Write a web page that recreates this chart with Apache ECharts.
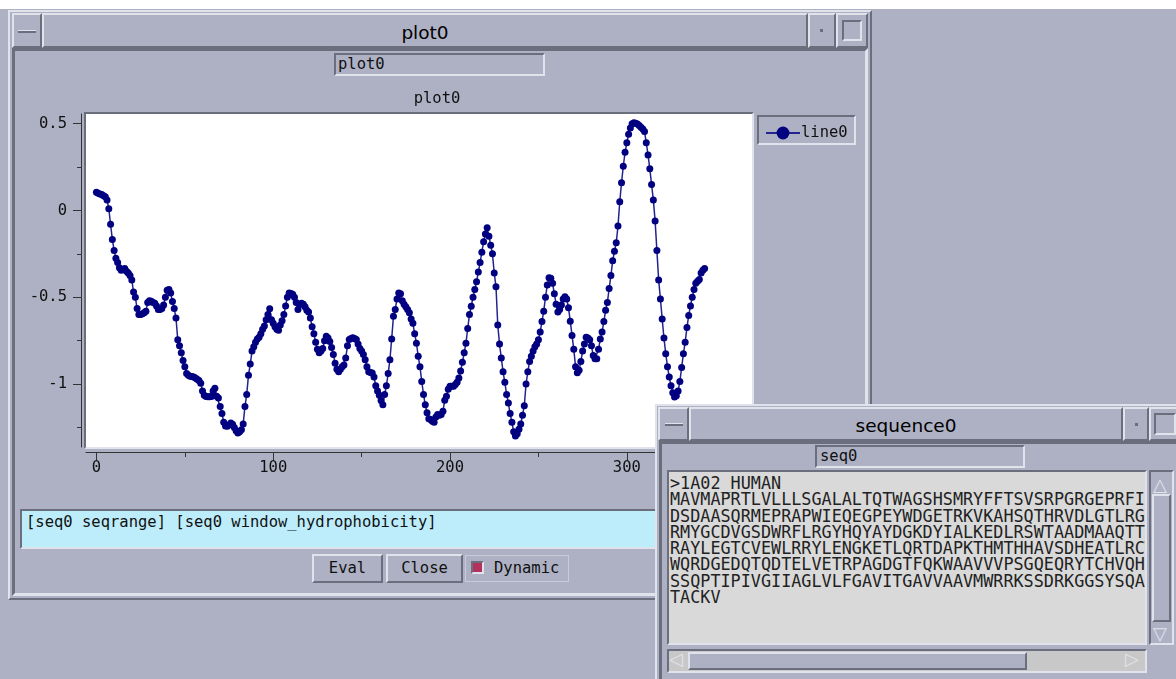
<!DOCTYPE html>
<html>
<head>
<meta charset="utf-8">
<script src="https://cdn.jsdelivr.net/npm/echarts@6/dist/echarts.min.js"></script>
<style>
  html, body { margin: 0; padding: 0; }
  body { width: 1176px; height: 679px; overflow: hidden; position: relative; background: #aeb1c4; }
  div { box-sizing: border-box; }
  .abs { position: absolute; }
  .raised { border: 2px solid; border-color: #e1e3ec #6b6e7d #6b6e7d #e1e3ec; }
  .sunken { border: 2px solid; border-color: #6b6e7d #e1e3ec #e1e3ec #6b6e7d; }
  .mono { font-family: "DejaVu Sans Mono", monospace; font-size: 15.5px; color: #111; white-space: pre; }
  .wtitle { font-family: "DejaVu Sans", sans-serif; font-size: 18.5px; color: #000; text-align: center; }
  .dash { position: absolute; height: 3px; border-top: 1px solid #e1e3ec; border-bottom: 2px solid #6b6e7d; }
</style>
</head>
<body>
<div class="abs" style="left:0;top:0;width:1176px;height:9px;background:#fff"></div>

<!-- plot0 window -->
<div class="abs raised" style="left:8px;top:10px;width:864px;height:590px;background:#aeb1c4"></div>
<div class="abs raised" style="left:12px;top:13px;width:30px;height:35px"></div>
<div class="dash" style="left:18px;top:30px;width:18px"></div>
<div class="abs raised wtitle" style="left:42px;top:13px;width:766px;height:35px;line-height:36px">plot0</div>
<div class="abs raised" style="left:808px;top:13px;width:28px;height:35px"></div>
<div class="abs" style="left:820px;top:29px;width:3px;height:3px;background:#6b6e7d"></div>
<div class="abs raised" style="left:836px;top:13px;width:32px;height:35px"></div>
<div class="abs sunken" style="left:842px;top:20px;width:20px;height:21px"></div>
<div class="abs" style="left:12px;top:48px;width:856px;height:548px;border:3px solid;border-color:#6b6e7d #e1e3ec #e1e3ec #6b6e7d"></div>
<div class="abs sunken mono" style="left:334px;top:53px;width:211px;height:23px;line-height:19px;padding-left:2px">plot0</div>
<div class="abs sunken" style="left:84px;top:112px;width:670px;height:337px;background:#fff"></div>
<div class="abs sunken" style="left:757px;top:115px;width:99px;height:30px"></div>
<div class="abs sunken mono" style="left:20px;top:509px;width:848px;height:40px;background:#bdedfb;padding:2px 4px;line-height:18px">[seq0 seqrange] [seq0 window_hydrophobicity]</div>
<div class="abs raised mono" style="left:312px;top:554px;width:71px;height:29px;text-align:center;line-height:25px">Eval</div>
<div class="abs raised mono" style="left:386px;top:554px;width:77px;height:29px;text-align:center;line-height:25px">Close</div>
<div class="abs mono" style="left:465px;top:555px;width:104px;height:27px;border:1px solid #c9cbd6;line-height:25px;padding-left:28px">Dynamic</div>
<div class="abs" style="left:471px;top:561px;width:13px;height:13px;background:#b3325d;border:2px solid;border-color:#6b6e7d #e1e3ec #e1e3ec #6b6e7d"></div>

<div id="chart" class="abs" style="left:0;top:0;width:1176px;height:679px;z-index:1"></div>

<!-- sequence0 window -->
<div class="abs" style="left:655px;top:404px;width:540px;height:290px;z-index:2;overflow:hidden">
  <div class="abs raised" style="left:0;top:0;width:540px;height:290px;background:#aeb1c4"></div>
  <div class="abs raised" style="left:3px;top:3px;width:31px;height:34px"></div>
  <div class="dash" style="left:10px;top:19px;width:18px"></div>
  <div class="abs raised wtitle" style="left:34px;top:3px;width:434px;height:34px;line-height:33px">sequence0</div>
  <div class="abs raised" style="left:468px;top:3px;width:26px;height:34px"></div>
  <div class="abs" style="left:480px;top:19px;width:3px;height:3px;background:#6b6e7d"></div>
  <div class="abs raised" style="left:494px;top:3px;width:32px;height:34px"></div>
  <div class="abs sunken" style="left:499px;top:9px;width:22px;height:22px"></div>
  <div class="abs" style="left:4px;top:37px;width:530px;height:250px;border:3px solid;border-color:#6b6e7d #e1e3ec #e1e3ec #6b6e7d"></div>
  <div class="abs sunken mono" style="left:160px;top:41px;width:210px;height:23px;line-height:19px;padding-left:3px">seq0</div>
  <div id="seqText" class="abs sunken mono" style="left:12px;top:66px;width:480px;height:175px;background:#d9d9d9;overflow:hidden;font-size:16.8px;line-height:16.3px;padding:3px 1px;color:#222"></div>
  <div class="abs sunken" style="left:494px;top:66px;width:25px;height:175px;background:#aeb1c4"></div>
  <div class="abs raised" style="left:497px;top:90px;width:19px;height:128px"></div>
  <div class="abs" style="left:498px;top:70px;font:18px 'DejaVu Sans';color:#e1e3ec">&#9651;</div>
  <div class="abs" style="left:498px;top:219px;font:18px 'DejaVu Sans';color:#e1e3ec">&#9661;</div>
  <div class="abs sunken" style="left:12px;top:245px;width:480px;height:24px;background:#c8c8c8"></div>
  <div class="abs raised" style="left:33px;top:248px;width:339px;height:18px;background:#aeb1c4"></div>
  <div class="abs" style="left:14px;top:244px;font:18px 'DejaVu Sans';color:#e1e3ec">&#9665;</div>
  <div class="abs" style="left:470px;top:244px;font:18px 'DejaVu Sans';color:#e1e3ec">&#9655;</div>
</div>

<script>
// window hydrophobicity of seq0, one value per window position
const hydro = [
  0.105, 0.10, 0.095, 0.092, 0.085, 0.079, 0.06, 0.01, -0.08, -0.167,
  -0.23, -0.275, -0.30, -0.33, -0.345, -0.34, -0.335, -0.35, -0.36, -0.375,
  -0.40, -0.47, -0.50, -0.565, -0.60, -0.60, -0.595, -0.59, -0.58, -0.53,
  -0.52, -0.523, -0.53, -0.535, -0.55, -0.57, -0.57, -0.565, -0.545, -0.50,
  -0.46, -0.455, -0.475, -0.525, -0.565, -0.62, -0.745, -0.78, -0.82, -0.865,
  -0.90, -0.94, -0.95, -0.955, -0.957, -0.96, -0.965, -0.972, -0.98, -0.995,
  -1.04, -1.065, -1.072, -1.073, -1.074, -1.072, -1.04, -1.025, -1.071, -1.08,
  -1.13, -1.17, -1.22, -1.242, -1.244, -1.236, -1.225, -1.232, -1.25, -1.27,
  -1.282, -1.275, -1.263, -1.23, -1.13, -1.06, -0.95, -0.885, -0.81, -0.785,
  -0.76, -0.74, -0.73, -0.71, -0.685, -0.665, -0.63, -0.60, -0.567, -0.629,
  -0.65, -0.67, -0.685, -0.69, -0.66, -0.635, -0.60, -0.55, -0.50, -0.475,
  -0.478, -0.483, -0.50, -0.53, -0.57, -0.542, -0.535, -0.54, -0.555, -0.575,
  -0.585, -0.62, -0.67, -0.71, -0.76, -0.80, -0.82, -0.81, -0.795, -0.75,
  -0.725, -0.735, -0.755, -0.79, -0.83, -0.88, -0.915, -0.93, -0.915, -0.90,
  -0.89, -0.85, -0.78, -0.743, -0.738, -0.734, -0.738, -0.744, -0.77, -0.795,
  -0.81, -0.83, -0.86, -0.90, -0.93, -0.933, -0.936, -0.96, -1.01, -1.04,
  -1.065, -1.095, -1.119, -1.06, -1.01, -0.94, -0.86, -0.74, -0.61, -0.57,
  -0.51, -0.475, -0.48, -0.52, -0.54, -0.555, -0.57, -0.59, -0.625, -0.65,
  -0.71, -0.765, -0.84, -0.90, -0.985, -1.06, -1.12, -1.165, -1.20, -1.205,
  -1.215, -1.22, -1.19, -1.175, -1.18, -1.175, -1.157, -1.094, -1.07, -1.03,
  -1.013, -1.013, -1.013, -1.003, -0.99, -0.965, -0.925, -0.875, -0.82, -0.765,
  -0.68, -0.60, -0.552, -0.50, -0.455, -0.41, -0.355, -0.30, -0.24, -0.18,
  -0.135, -0.10, -0.148, -0.20, -0.25, -0.36, -0.44, -0.66, -0.77, -0.85,
  -0.93, -0.99, -1.06, -1.11, -1.17, -1.22, -1.275, -1.30, -1.287, -1.26,
  -1.23, -1.18, -1.125, -1.00, -0.93, -0.87, -0.84, -0.81, -0.785, -0.77,
  -0.745, -0.70, -0.64, -0.58, -0.50, -0.43, -0.388, -0.39, -0.42, -0.48,
  -0.54, -0.585, -0.57, -0.545, -0.51, -0.497, -0.51, -0.56, -0.638, -0.72,
  -0.80, -0.90, -0.935, -0.92, -0.87, -0.81, -0.77, -0.731, -0.735, -0.745,
  -0.78, -0.835, -0.855, -0.855, -0.80, -0.74, -0.70, -0.64, -0.575, -0.53,
  -0.45, -0.375, -0.29, -0.235, -0.186, -0.09, 0.05, 0.16, 0.255, 0.335,
  0.39, 0.44, 0.475, 0.50, 0.506, 0.503, 0.498, 0.49, 0.48, 0.47,
  0.455, 0.39, 0.32, 0.24, 0.15, 0.06, -0.06, -0.23, -0.40, -0.51,
  -0.625, -0.735, -0.825, -0.90, -0.96, -1.01, -1.05, -1.075, -1.068, -1.04,
  -0.985, -0.905, -0.825, -0.76, -0.675, -0.605, -0.55, -0.50, -0.455, -0.42,
  -0.408, -0.398, -0.36, -0.345, -0.334
];
const xLabelTicks = [0, 100, 200, 300];
const xMinorTicks = [50, 150, 250, 350];
const yLabelTicks = [-1, -0.5, 0, 0.5];
const yMinorTicks = [-1.25, -0.75, -0.25, 0.25];

const seqLines = [
  '>1A02_HUMAN',
  'MAVMAPRTLVLLLSGALALTQTWAGSHSMRYFFTSVSRPGRGEPRFIAVGYVDDTQFVRF',
  'DSDAASQRMEPRAPWIEQEGPEYWDGETRKVKAHSQTHRVDLGTLRGYYNQSEAGSHTVQ',
  'RMYGCDVGSDWRFLRGYHQYAYDGKDYIALKEDLRSWTAADMAAQTTKHKWEAAHVAEQL',
  'RAYLEGTCVEWLRRYLENGKETLQRTDAPKTHMTHHAVSDHEATLRCWALSFYPAEITLT',
  'WQRDGEDQTQDTELVETRPAGDGTFQKWAAVVVPSGQEQRYTCHVQHEGLPKPLTLRWEP',
  'SSQPTIPIVGIIAGLVLFGAVITGAVVAAVMWRRKSSDRKGGSYSQAASSDSAQGSDVSL',
  'TACKV'
];
document.getElementById('seqText').textContent = seqLines.join('\n');

const mono = 'DejaVu Sans Mono';
const axisColor = '#333';
const xMin = -5.9, xMax = 370.8, yMin = -1.363, yMax = 0.556;

let chart = echarts.init(document.getElementById('chart'), null, { renderer: 'canvas' });
let option = {
  animation: false,
  backgroundColor: 'transparent',
  title: {
    text: 'plot0',
    left: 432,
    top: 86,
    textAlign: 'center',
    textStyle: { fontFamily: mono, fontSize: 15.5, fontWeight: 'normal', color: '#111' }
  },
  legend: {
    data: ['line0'],
    left: 760,
    top: 120,
    itemWidth: 34,
    itemHeight: 16,
    itemGap: 2,
    textStyle: { fontFamily: mono, fontSize: 15.5, color: '#111', padding: [0, 0, 0, -4] }
  },
  grid: {
    show: true,
    left: 86, top: 114, width: 666, height: 333,
    backgroundColor: '#ffffff',
    borderWidth: 0
  },
  xAxis: [
    {
      type: 'value', min: xMin, max: xMax, offset: 5, position: 'bottom',
      splitLine: { show: false },
      axisLine: { onZero: false, lineStyle: { color: axisColor, width: 1 } },
      axisTick: { customValues: xLabelTicks, length: 9, lineStyle: { color: axisColor } },
      axisLabel: { customValues: xLabelTicks, margin: 8, fontFamily: mono, fontSize: 15.5, color: '#111' }
    },
    {
      type: 'value', min: xMin, max: xMax, offset: 5, position: 'bottom',
      splitLine: { show: false },
      axisLine: { show: false, onZero: false },
      axisTick: { customValues: xMinorTicks, length: 5, lineStyle: { color: axisColor } },
      axisLabel: { show: false }
    }
  ],
  yAxis: [
    {
      type: 'value', min: yMin, max: yMax, offset: 5, position: 'left',
      splitLine: { show: false },
      axisLine: { show: true, onZero: false, lineStyle: { color: axisColor, width: 1 } },
      axisTick: { show: true, customValues: yLabelTicks, length: 8, lineStyle: { color: axisColor } },
      axisLabel: { customValues: yLabelTicks, margin: 14, fontFamily: mono, fontSize: 15.5, color: '#111' }
    },
    {
      type: 'value', min: yMin, max: yMax, offset: 5, position: 'left',
      splitLine: { show: false },
      axisLine: { show: false, onZero: false },
      axisTick: { show: true, customValues: yMinorTicks, length: 4, lineStyle: { color: axisColor } },
      axisLabel: { show: false }
    }
  ],
  series: [
    {
      name: 'line0',
      type: 'line',
      data: hydro.map((v, i) => [i, v]),
      symbol: 'circle',
      symbolSize: 7,
      showAllSymbol: true,
      itemStyle: { color: '#000080' },
      lineStyle: { color: '#23238f', width: 1.5 }
    }
  ]
};
chart.setOption(option);
</script>
</body>
</html>
